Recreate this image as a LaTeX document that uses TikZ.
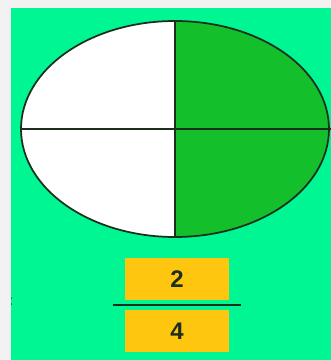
\documentclass[tikz,border=0pt]{standalone}
\usepackage{fontspec}
\setmainfont{Liberation Sans}
\usetikzlibrary{positioning}
\definecolor{PageGray}{HTML}{F2F2F2}
\definecolor{MintBg}{HTML}{00F593}
\definecolor{HalfGreen}{HTML}{14BF2C}
\definecolor{EdgeDark}{HTML}{1C2E1C}
\definecolor{BoxGold}{HTML}{FFC60F}

\begin{document}
\begin{tikzpicture}[x=0.75pt,y=-0.75pt]
  \tikzstyle{numbox}=[fill=BoxGold,minimum width=78pt,minimum height=32pt,
    inner sep=0pt,font=\fontsize{18}{20}\selectfont\bfseries,text=EdgeDark]
  \useasboundingbox (0,0) rectangle (331,360);
  \fill[PageGray] (0,0) rectangle (331,360);
  \fill[MintBg] (11,8) rectangle (331,360);
  % ellipse cut in quarters, right half shaded
  \coordinate (mid) at (175,129);
  \coordinate (top) at (175,21);
  \coordinate (bot) at (175,237);
  \coordinate (lft) at (21,129);
  \coordinate (rgt) at (331,129);
  \begin{scope}
    \clip (mid) ellipse [x radius=154,y radius=108];
    \fill[white] (15,15) rectangle (175,245);
    \fill[HalfGreen] (175,15) rectangle (335,245);
  \end{scope}
  \draw[EdgeDark,line width=1.3pt] (mid) ellipse [x radius=154,y radius=108];
  \draw[EdgeDark,line width=1.3pt] (top)--(bot);
  \draw[EdgeDark,line width=1.3pt] (lft)--(rgt);
  % fraction two quarters
  \node[numbox] (num) at (177,279) {2};
  \node[numbox] (den) at (177,331) {4};
  \draw[EdgeDark,line width=1.6pt] ([xshift=-9pt]num.south west |- 0,305)
    coordinate (barl) -- ([xshift=9pt]num.south east |- 0,305) coordinate (barr);
  % cut-off sign at the left edge
  \begin{scope}
    \clip (11,8) rectangle (331,360);
    \node[font=\fontsize{18}{20}\selectfont,text=EdgeDark] (eqs) at (6,304) {=};
  \end{scope}
\end{tikzpicture}
\end{document}
